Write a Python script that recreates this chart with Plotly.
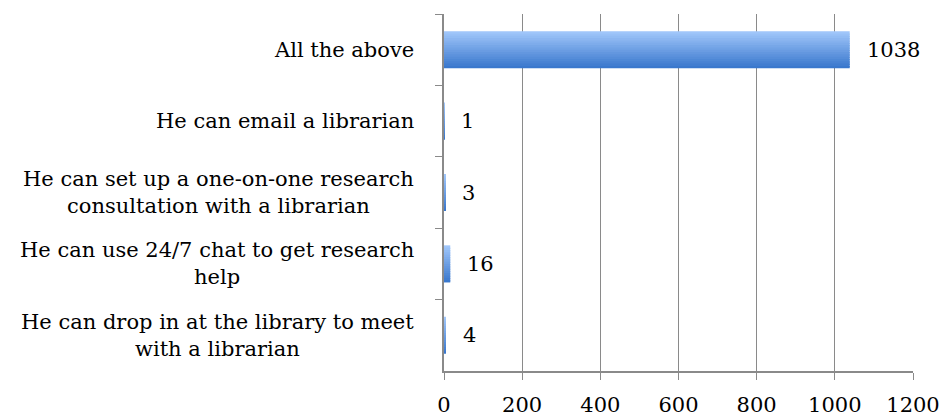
import plotly.graph_objects as go

# Survey responses
categories = [
    "All the above",
    "He can email a librarian",
    "He can set up a one-on-one research<br>consultation with a librarian",
    "He can use 24/7 chat to get research<br>help",
    "He can drop in at the library to meet<br>with a librarian",
]
counts = [1038, 1, 3, 16, 4]
x_ticks = [0, 200, 400, 600, 800, 1000, 1200]

FONT = "DejaVu Serif"
FSIZE = 21
GRID = "#8a8a8a"

fig = go.Figure()

# Bars drawn as thin horizontal slices to give a top-to-bottom blue gradient
band = 0.52
n_slices = 16
top_rgb = (160, 198, 250)
bot_rgb = (58, 120, 205)
step = band / n_slices
for i in range(n_slices):
    t = i / (n_slices - 1)
    r, g, b = (round(top_rgb[k] + (bot_rgb[k] - top_rgb[k]) * t) for k in range(3))
    w = step if i == n_slices - 1 else step * 1.6
    fig.add_trace(go.Bar(
        x=counts,
        y=categories,
        orientation="h",
        width=w,
        offset=-band / 2 + i * step,
        marker=dict(color=f"rgb({r},{g},{b})", line=dict(width=0)),
        showlegend=False,
        hoverinfo="skip",
    ))

# Value labels to the right of each bar
for cat, val in zip(categories, counts):
    fig.add_annotation(
        x=val, y=cat, xref="x", yref="y",
        text=str(val), showarrow=False,
        xanchor="left", yanchor="middle", xshift=15,
        font=dict(family=FONT, size=FSIZE, color="#000"),
    )

# Category labels, centred line by line
for cat in categories:
    fig.add_annotation(
        x=0, y=cat, xref="paper", yref="y",
        text=cat, showarrow=False,
        xanchor="right", yanchor="middle", xshift=-28,
        align="center",
        font=dict(family=FONT, size=FSIZE, color="#000"),
    )

fig.update_layout(
    width=943,
    height=418,
    margin=dict(l=444, r=30, t=14, b=47, autoexpand=False),
    paper_bgcolor="white",
    plot_bgcolor="white",
    barmode="overlay",
    font=dict(family=FONT, size=FSIZE, color="#000"),
    xaxis=dict(
        range=[0, 1200],
        tickvals=x_ticks,
        ticktext=[str(v) for v in x_ticks],
        showgrid=True,
        gridcolor=GRID,
        gridwidth=1.3,
        zeroline=False,
        showline=True,
        linecolor=GRID,
        linewidth=1.5,
        ticks="outside",
        ticklen=7,
        tickcolor=GRID,
        tickwidth=1.3,
        ticklabelstandoff=7,
        tickfont=dict(family=FONT, size=FSIZE, color="#000"),
    ),
    yaxis=dict(
        categoryorder="array",
        categoryarray=categories,
        autorange="reversed",
        showticklabels=False,
        showgrid=False,
        zeroline=False,
        showline=True,
        linecolor=GRID,
        linewidth=1.5,
        ticks="outside",
        tickson="boundaries",
        ticklen=7,
        tickcolor=GRID,
        tickwidth=1.3,
    ),
)

fig.write_html("out.html")
